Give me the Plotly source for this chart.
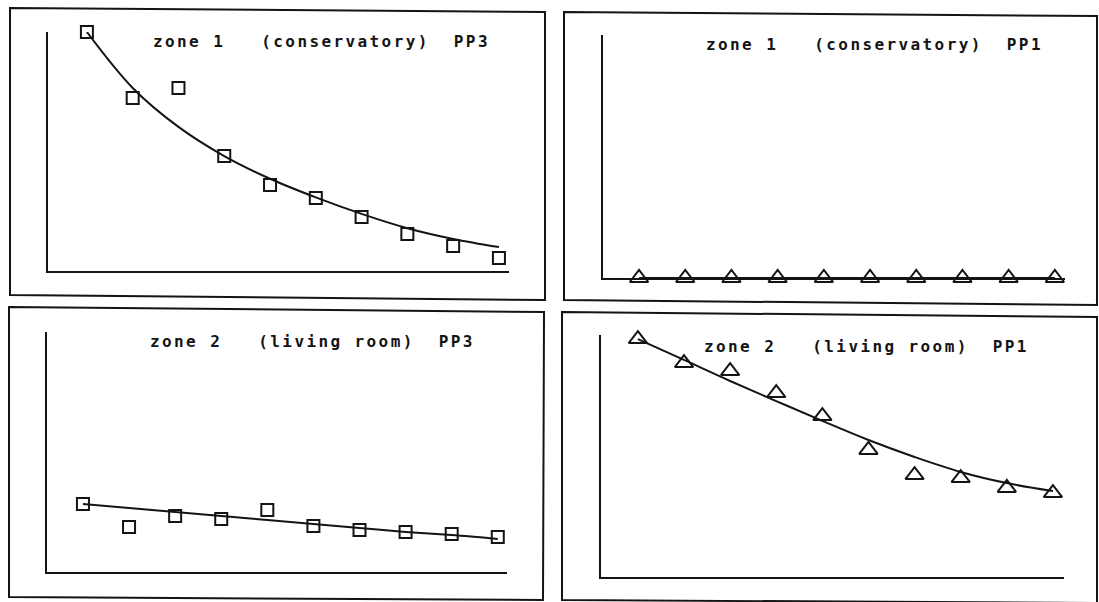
import plotly.graph_objects as go

W, H = 1099, 602

# ---------------- data (arbitrary units, axis = 0 .. 100) ----------------
x_points = [1, 2, 3, 4, 5, 6, 7, 8, 9, 10]

z1_pp3_obs = [100.0, 72.4, 76.6, 48.1, 36.0, 30.5, 22.6, 15.5, 10.5, 5.4]
z1_pp3_fit = [100.0, 76.6, 60.3, 48.1, 38.6, 30.8, 23.9, 17.9, 13.4, 10.0]

z1_pp1_obs = [0.0, 0.0, 0.0, 0.0, 0.0, 0.0, 0.0, 0.0, 0.0, 0.0]
z1_pp1_fit = [0.0, 0.0, 0.0, 0.0, 0.0, 0.0, 0.0, 0.0, 0.0, 0.0]

z2_pp3_obs = [28.3, 18.8, 23.3, 22.1, 25.8, 19.2, 17.5, 16.7, 15.8, 14.6]
z2_pp3_fit = [28.3, 26.7, 25.0, 23.3, 21.7, 20.0, 18.3, 16.7, 15.4, 13.8]

z2_pp1_obs = [98.3, 88.4, 85.1, 76.0, 66.5, 52.5, 42.1, 40.9, 36.8, 34.7]
z2_pp1_fit = [98.3, 89.7, 81.0, 72.7, 64.5, 56.6, 49.6, 43.4, 38.8, 35.5]

titles = [
    "zone 1   (conservatory)  PP3",
    "zone 1   (conservatory)  PP1",
    "zone 2   (living room)  PP3",
    "zone 2   (living room)  PP1",
]

INK = "#141414"


def xd(px):
    return px / W


def yd(py):
    return 1 - py / H


# panel layout: (left axis px, right end px, top px, bottom axis px, x range)
panels = [
    dict(l=48, r=509, t=32, b=271, xr=[0.15, 10.22]),
    dict(l=603, r=1065, t=35, b=278, xr=[0.22, 10.22]),
    dict(l=47, r=507, t=332, b=572, xr=[0.22, 10.20]),
    dict(l=601, r=1064, t=335, b=577, xr=[0.20, 10.24]),
]

series = [
    (z1_pp3_obs, z1_pp3_fit, "square-open", 12),
    (z1_pp1_obs, z1_pp1_fit, "triangle-up-open", 16),
    (z2_pp3_obs, z2_pp3_fit, "square-open", 12),
    (z2_pp1_obs, z2_pp1_fit, "triangle-up-open", 16),
]

fig = go.Figure()
layout_axes = {}
for i, (p, (obs, fit, sym, msz)) in enumerate(zip(panels, series)):
    n = "" if i == 0 else str(i + 1)
    xa, ya = "x" + n, "y" + n
    fig.add_trace(go.Scatter(
        x=x_points, y=fit, mode="lines", xaxis=xa, yaxis=ya,
        line=dict(color=INK, width=2, shape="spline", smoothing=1.0),
        hoverinfo="skip", showlegend=False, cliponaxis=False))
    fig.add_trace(go.Scatter(
        x=x_points, y=obs, mode="markers", xaxis=xa, yaxis=ya,
        marker=dict(symbol=sym, size=msz, color=INK, line=dict(width=2, color=INK)),
        showlegend=False, cliponaxis=False))
    common = dict(showline=True, linewidth=2, linecolor=INK, showgrid=False,
                  zeroline=False, showticklabels=False, ticks="", fixedrange=True)
    layout_axes["xaxis" + n] = dict(domain=[xd(p["l"]), xd(p["r"])], range=p["xr"],
                                    anchor=ya, **common)
    layout_axes["yaxis" + n] = dict(domain=[yd(p["b"]), yd(p["t"])], range=[0, 100],
                                    anchor=xa, **common)

fig.update_layout(**layout_axes)

# panel frames (the scanned sheet is slightly rotated)
frames = [
    [(10, 8), (545, 12), (545, 300), (10, 295)],
    [(564, 12), (1097, 16), (1097, 305), (564, 300)],
    [(9, 307), (544, 312), (543, 600), (9, 597)],
    [(562, 312), (1097, 317), (1097, 603), (562, 600)],
]
shapes = []
for fr in frames:
    path = "M " + " L ".join(f"{xd(a):.5f},{yd(b):.5f}" for a, b in fr) + " Z"
    shapes.append(dict(type="path", xref="paper", yref="paper", path=path,
                       line=dict(color=INK, width=2), fillcolor="rgba(0,0,0,0)"))

# titles
title_pos = [(151, 41), (704, 45), (148, 341), (702, 346)]
annotations = []
for t, (px, py) in zip(titles, title_pos):
    txt = t.replace(" ", "\u00a0")
    annotations.append(dict(
        xref="paper", yref="paper", x=xd(px), y=yd(py), xanchor="left", yanchor="middle",
        showarrow=False,
        text=f'<span style="letter-spacing:2.4px">{txt}</span>',
        font=dict(family="DejaVu Sans Mono", size=16, color=INK, weight="bold")))

fig.update_layout(
    width=W, height=H, autosize=False,
    margin=dict(l=0, r=0, t=0, b=0),
    paper_bgcolor="white", plot_bgcolor="white",
    shapes=shapes, annotations=annotations, showlegend=False,
)

fig.write_html(
    "out.html",
    config={"displayModeBar": False},
    post_script="document.body.style.margin='0px';document.body.style.overflow='hidden';",
)
